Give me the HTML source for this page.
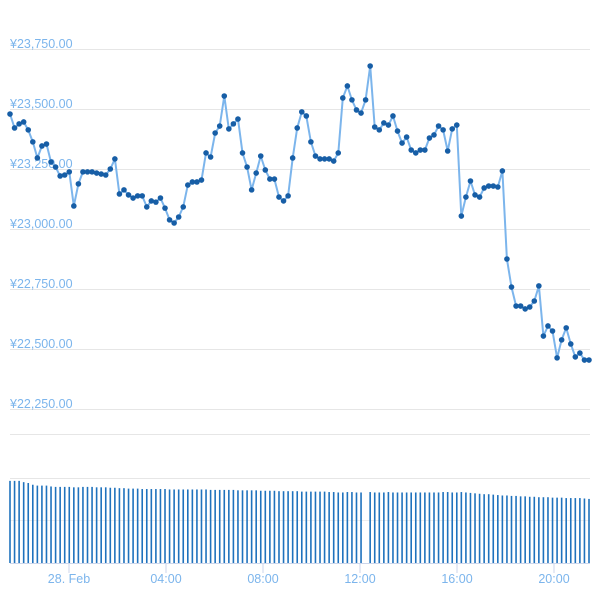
<!DOCTYPE html>
<html><head><meta charset="utf-8">
<style>
html,body{margin:0;padding:0;background:#fff;}
svg{display:block;font-family:"Liberation Sans",sans-serif;}
</style></head>
<body>
<svg id="chart" width="600" height="600">
  <g id="grid"></g>
  <g id="ylabels"></g>
  <g id="volume"></g>
  <g id="price"></g>
  <g id="xaxis"></g>
</svg>
<script>
const prices = [23479,23421,23438,23446,23413,23363,23296,23346,23354,23279,
23258,23221,23225,23238,23096,23188,23238,23238,23238,23233,
23229,23225,23250,23292,23146,23163,23142,23129,23138,23138,
23092,23117,23112,23129,23087,23038,23025,23050,23092,23183,
23196,23196,23204,23317,23300,23400,23429,23554,23417,23438,
23458,23317,23258,23163,23233,23304,23246,23208,23208,23133,
23117,23138,23296,23421,23488,23471,23363,23304,23292,23292,
23292,23283,23317,23546,23596,23538,23496,23483,23538,23679,
23425,23413,23442,23433,23471,23408,23358,23383,23329,23317,
23329,23329,23379,23392,23429,23413,23325,23417,23433,23054,
23133,23200,23142,23133,23171,23179,23179,23175,23242,22875,
22758,22679,22679,22667,22675,22700,22763,22554,22596,22575,
22463,22538,22588,22521,22467,22483,22454,22454];
const volumes = [1.91,1.91,1.91,1.88,1.86,1.82,1.80,1.80,1.80,1.78,
1.77,1.77,1.77,1.77,1.76,1.76,1.77,1.77,1.77,1.76,
1.76,1.76,1.75,1.75,1.74,1.74,1.73,1.73,1.73,1.72,
1.72,1.72,1.72,1.72,1.72,1.71,1.71,1.71,1.71,1.71,
1.71,1.71,1.71,1.71,1.70,1.70,1.70,1.70,1.70,1.70,
1.69,1.69,1.69,1.69,1.69,1.68,1.68,1.68,1.68,1.67,
1.67,1.67,1.67,1.67,1.66,1.66,1.66,1.66,1.66,1.66,
1.65,1.65,1.64,1.64,1.65,1.65,1.64,1.64,0,1.65,
1.64,1.64,1.64,1.65,1.64,1.64,1.64,1.64,1.64,1.64,
1.64,1.64,1.64,1.64,1.64,1.65,1.65,1.64,1.64,1.65,
1.64,1.63,1.62,1.61,1.60,1.60,1.59,1.58,1.57,1.57,
1.56,1.56,1.55,1.55,1.54,1.54,1.53,1.53,1.53,1.52,
1.52,1.52,1.51,1.51,1.51,1.51,1.50,1.49];
const priceTicks = [23750,23500,23250,23000,22750,22500,22250];
const priceTickLabels = ["¥23,750.00","¥23,500.00","¥23,250.00","¥23,000.00","¥22,750.00","¥22,500.00","¥22,250.00"];
const timeTicks = [0,4,8,12,16,20]; // hours since 28 Feb 00:00
const timeTickLabels = ["28. Feb","04:00","08:00","12:00","16:00","20:00"];
const NS="http://www.w3.org/2000/svg";
function mk(tag,attrs,parent){const e=document.createElementNS(NS,tag);for(const k in attrs)e.setAttribute(k,attrs[k]);parent.appendChild(e);return e;}
const xIdx = i => 10 + i*(579/(prices.length-1));
const xTime = h => 69 + h*24.25;
const yPrice = v => 49 + (23750 - v)*360/1500;
const yVol = v => 563 - v*43;
const grid=document.getElementById('grid');
priceTicks.forEach(t=>{
  const l=mk('line',{x1:10,x2:590,y1:yPrice(t)+0.5,y2:yPrice(t)+0.5,stroke:'#e6e6e6','stroke-width':1},grid);
  
  
});
[434,478].forEach(y=>{
  const l=mk('line',{x1:10,x2:590,y1:y+0.5,y2:y+0.5,stroke:'#e6e6e6','stroke-width':1},grid);
  
  
});
const l520=mk('line',{x1:10,x2:590,y1:520.5,y2:520.5,stroke:'#eeeeee','stroke-width':1},grid);


const yl=document.getElementById('ylabels');
priceTicks.forEach((t,i)=>{
  const tx=mk('text',{x:10,y:yPrice(t)-1,fill:'#7cb5ec','font-size':12.5},yl);
  tx.textContent=priceTickLabels[i];
  
  
});
const vg=document.getElementById('volume');
volumes.forEach((v,i)=>{
  if(v<=0)return;
  const x=xIdx(i);
  const r=mk('rect',{x:x-0.8,y:yVol(v),width:1.6,height:563-yVol(v),fill:'#1f72bd'},vg);
  
  
});
const pg=document.getElementById('price');
const pts=prices.map((v,i)=>xIdx(i).toFixed(1)+','+yPrice(v).toFixed(1)).join(' ');
const pl=mk('polyline',{points:pts,fill:'none',stroke:'#7cb5ec','stroke-width':2,'stroke-linejoin':'round'},pg);


prices.forEach((v,i)=>{
  const c=mk('circle',{cx:xIdx(i),cy:yPrice(v),r:2.8,fill:'#175ea6'},pg);
  
  
});
const xa=document.getElementById('xaxis');
const axl=mk('line',{x1:10,x2:590,y1:563.5,y2:563.5,stroke:'#ccd6eb','stroke-width':1},xa);


timeTicks.forEach((h,i)=>{
  const x=xTime(h);
  const tk=mk('line',{x1:x,x2:x,y1:564,y2:573,stroke:'#ccd6eb','stroke-width':1},xa);
  
  
  const tx=mk('text',{x:x,y:583,fill:'#7cb5ec','font-size':12.5,'text-anchor':'middle'},xa);
  tx.textContent=timeTickLabels[i];
  
  
});
</script>
</body></html>
